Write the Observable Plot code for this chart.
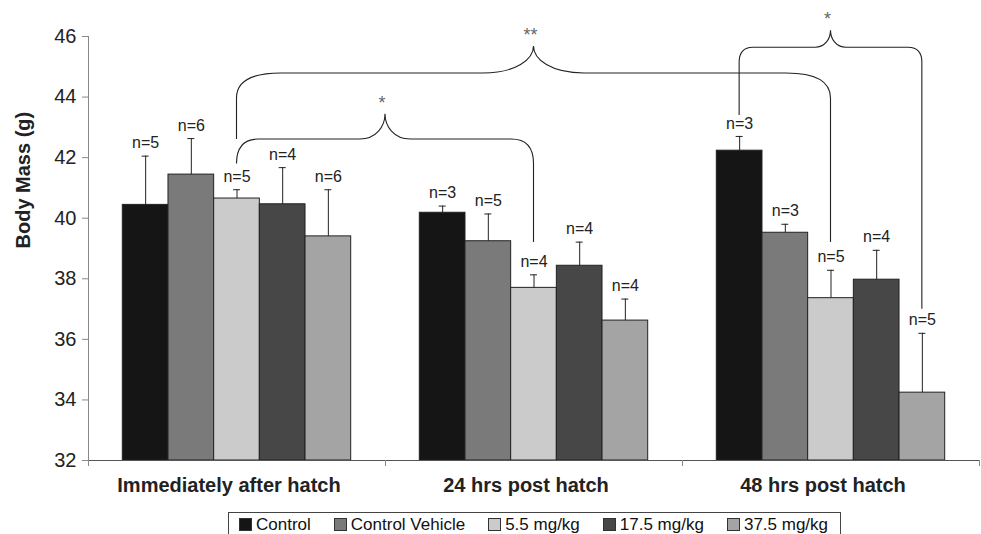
<!DOCTYPE html>
<html>
<head>
<meta charset="utf-8">
<script src="https://cdn.jsdelivr.net/npm/d3@7"></script>
<script src="https://cdn.jsdelivr.net/npm/@observablehq/plot@0.6"></script>
<style>
html, body { margin: 0; padding: 0; background: #fff; }
#wrap { position: relative; width: 981px; height: 534px; overflow: hidden; font-family: "Liberation Sans", Arial, sans-serif; }
#legend { position: absolute; left: 228px; top: 512px; width: 613px; height: 25px; border: 1px solid #444; box-sizing: border-box; display: flex; align-items: center; padding-left: 10px; font-size: 17px; color: #111; }
#legend .item { display: flex; align-items: center; margin-right: 23px; white-space: nowrap; }
#legend .sw { width: 13px; height: 13px; box-sizing: border-box; border: 1px solid #333; margin-right: 4px; }
</style>
</head>
<body>
<div id="wrap"><div id="chart"></div><div id="legend"></div></div>
<script>
// ---- data ----
const groups = ["Immediately after hatch", "24 hrs post hatch", "48 hrs post hatch"];
const series = ["Control", "Control Vehicle", "5.5 mg/kg", "17.5 mg/kg", "37.5 mg/kg"];
const colors = ["#151515", "#7a7a7a", "#cacbca", "#474747", "#a3a4a3"];

const meanImmediate = [40.44, 41.44, 40.65, 40.46, 39.40];
const mean24h       = [40.18, 39.24, 37.70, 38.43, 36.62];
const mean48h       = [42.23, 39.52, 37.36, 37.97, 34.24];

const errImmediate = [1.61, 1.19, 0.29, 1.21, 1.54];
const err24h       = [0.22, 0.90, 0.43, 0.78, 0.71];
const err48h       = [0.47, 0.28, 0.92, 0.97, 1.96];

const nImmediate = [5, 6, 5, 4, 6];
const n24h       = [3, 5, 4, 4, 4];
const n48h       = [3, 3, 5, 4, 5];

const yTicks = [32, 34, 36, 38, 40, 42, 44, 46];
const yLabel = "Body Mass (g)";

// significance brackets: [group, series] of each leg, leg ends and level in grams
const bracketLabels   = ["*", "**", "*"];
const bracketFrom     = [[0, 2], [0, 2], [2, 0]];
const bracketTo       = [[1, 2], [2, 2], [2, 4]];
const bracketFromEnd  = [41.84, 42.60, 43.39];
const bracketToEnd    = [39.20, 39.20, 36.99];
const bracketLevel    = [42.60, 44.78, 45.63];

// ---- build table ----
const means = [meanImmediate, mean24h, mean48h];
const errs = [errImmediate, err24h, err48h];
const ns = [nImmediate, n24h, n48h];
const bw = 0.1538;
const pad = (1 - series.length * bw) / 2;
const center = (gi, si) => gi + pad + (si + 0.5) * bw;

const rows = [];
groups.forEach((g, gi) => series.forEach((s, si) => rows.push({
  group: g, series: s,
  mean: means[gi][si], top: means[gi][si] + errs[gi][si], n: ns[gi][si],
  x1: gi + pad + si * bw, x2: gi + pad + (si + 1) * bw, xc: center(gi, si)
})));

function bracketsMark(index, scales) {
  const {x, y} = scales;
  const g = d3.create("svg:g");
  bracketLabels.forEach((lab, k) => {
    const xa = x(center(...bracketFrom[k])), xb = x(center(...bracketTo[k]));
    const ya = y(bracketFromEnd[k]), yb = y(bracketToEnd[k]), yh = y(bracketLevel[k]);
    const span = xb - xa;
    const rx = 0.075 * span, ry = Math.min(25, Math.max(15, rx * 1.1));
    const tw = 0.085 * span, th = Math.min(27, Math.max(17, tw));
    const xm = (xa + xb) / 2, yt = yh - th;
    const d = `M${xa},${ya}V${yh + ry}Q${xa},${yh} ${xa + rx},${yh}H${xm - tw}` +
      `C${xm - tw * 0.35},${yh} ${xm},${yh - th * 0.5} ${xm},${yt}` +
      `C${xm},${yh - th * 0.5} ${xm + tw * 0.35},${yh} ${xm + tw},${yh}` +
      `H${xb - rx}Q${xb},${yh} ${xb},${yh + ry}V${yb}`;
    g.append("path").attr("d", d).attr("fill", "none").attr("stroke", "#222").attr("stroke-width", 1.1);
    g.append("text").attr("x", xm - 3).attr("y", yt - 5).attr("text-anchor", "middle")
      .attr("font-size", 18).attr("fill", "#666").text(lab);
  });
  return g.node();
}

const chart = Plot.plot({
  width: 981, height: 505,
  marginLeft: 88, marginRight: 2, marginTop: 36, marginBottom: 45,
  style: {fontFamily: "Liberation Sans, Arial, sans-serif", background: "white", overflow: "visible", display: "block", color: "#222"},
  x: {domain: [0, 3]},
  y: {domain: [32, 46]},
  color: {domain: series, range: colors},
  marks: [
    Plot.rectY(rows, {x1: "x1", x2: "x2", y1: 32, y2: "mean", fill: "series", stroke: "#222", strokeWidth: 1}),
    Plot.ruleX(rows, {x: "xc", y1: "mean", y2: "top", stroke: "#222"}),
    Plot.ruleY(rows, {y: "top", x1: "xc", x2: "xc", insetLeft: -3.5, insetRight: -3.5, stroke: "#222"}),
    Plot.text(rows, {x: "xc", y: "top", text: d => "n=" + d.n, dy: -13, fontSize: 16, fill: "#222"}),
    Plot.ruleX([0], {y1: 46, y2: 32, insetBottom: -6, stroke: "#888"}),
    Plot.ruleY([32], {x1: 0, x2: 3, stroke: "#555"}),
    Plot.axisY({ticks: yTicks, tickSize: 6, tickPadding: 6, fontSize: 20, stroke: "#888", fill: "#222", label: null}),
    Plot.axisX({ticks: [0, 1, 2, 3], tickSize: 6, tickFormat: () => "", stroke: "#888", label: null}),
    Plot.axisX({ticks: [0.5, 1.5, 2.5], tickSize: 0, tickPadding: 17, tickFormat: v => groups[Math.floor(v)], fontSize: 20, fontWeight: "bold", fill: "#222", dx: -8, label: null}),
    Plot.text([yLabel], {frameAnchor: "left", rotate: -90, dx: -65, fontSize: 20, fontWeight: "bold", fill: "#222"}),
    bracketsMark
  ]
});
document.getElementById("chart").appendChild(chart);

const legend = document.getElementById("legend");
series.forEach((s, i) => {
  const item = document.createElement("div");
  item.className = "item";
  const sw = document.createElement("span");
  sw.className = "sw";
  sw.style.background = colors[i];
  const t = document.createElement("span");
  t.textContent = s;
  item.appendChild(sw); item.appendChild(t);
  legend.appendChild(item);
});
</script>
</body>
</html>
